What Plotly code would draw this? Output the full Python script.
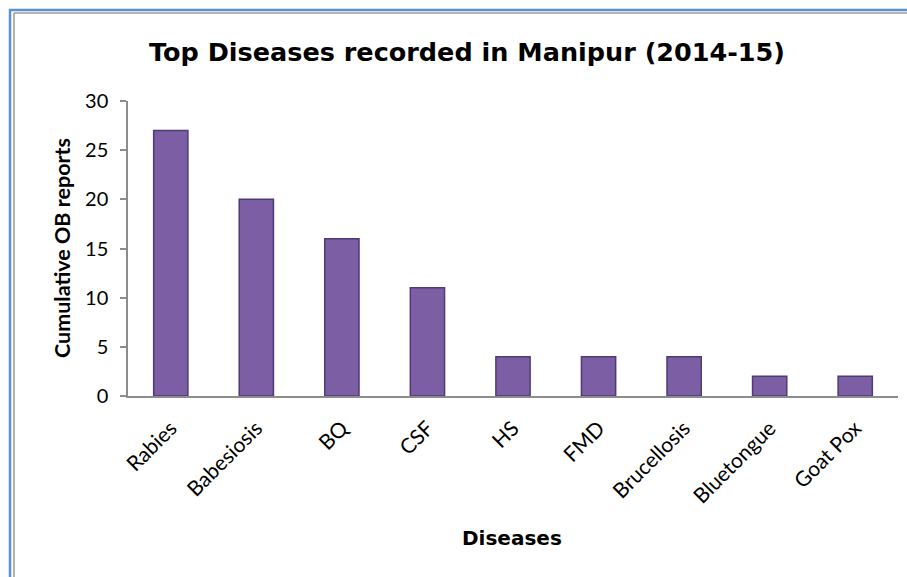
import plotly.graph_objects as go

# Outbreak reports per disease, Manipur 2014-15
diseases = ["Rabies", "Babesiosis", "BQ", "CSF", "HS", "FMD",
            "Brucellosis", "Bluetongue", "Goat Pox"]
ob_reports = [27, 20, 16, 11, 4, 4, 4, 2, 2]
y_ticks = [0, 5, 10, 15, 20, 25, 30]

W, H = 907, 577
L, R, T, B = 128, 9, 101, 181
pw, ph = W - L - R, H - T - B


def px(x):
    return (x - L) / pw


def py(y):
    return (H - B - y) / ph


fig = go.Figure(
    go.Bar(
        x=diseases,
        y=ob_reports,
        marker=dict(color="#7b5ea3", line=dict(color="#4f3a78", width=1.5)),
        hoverinfo="x+y",
    )
)

label_font = dict(family="Lato, Carlito, sans-serif", size=21, color="#000")

fig.update_layout(
    width=W,
    height=H,
    margin=dict(l=L, r=R, t=T, b=B, autoexpand=False),
    paper_bgcolor="white",
    plot_bgcolor="white",
    bargap=0.6,
    showlegend=False,
    title=dict(
        text="<b>Top Diseases recorded in Manipur (2014-15)</b>",
        x=467 / W, xanchor="center",
        y=1 - 52 / H, yanchor="middle",
        font=dict(family="DejaVu Sans", size=25.5, color="#000"),
    ),
    xaxis=dict(
        showline=True, linecolor="#8c8c8c", linewidth=1.5,
        ticks="", tickangle=-45, tickfont=label_font,
        ticklabelstandoff=10,
        showgrid=False, zeroline=False,
    ),
    yaxis=dict(
        range=[0, 30], tickvals=y_ticks,
        showline=True, linecolor="#8c8c8c", linewidth=1.5,
        ticks="outside", ticklen=6, tickcolor="#8c8c8c", tickwidth=1.5,
        ticklabelstandoff=8,
        tickfont=dict(family="Lato, Carlito, sans-serif", size=20, color="#000"),
        showgrid=False, zeroline=False,
    ),
    annotations=[
        dict(text="<b>Diseases</b>", xref="paper", yref="paper",
             x=px(512), y=py(538), showarrow=False,
             xanchor="center", yanchor="middle",
             font=dict(family="DejaVu Sans", size=20, color="#000")),
        dict(text="<b>Cumulative OB reports</b>", xref="paper", yref="paper",
             x=px(62), y=py(248), showarrow=False, textangle=-90,
             xanchor="center", yanchor="middle",
             font=dict(family="Lato, sans-serif", size=21.5, color="#000")),
    ],
    shapes=[
        # outer blue frame (top and left edges)
        dict(type="line", xref="paper", yref="paper",
             x0=px(9), x1=px(W + 5), y0=py(10), y1=py(10),
             line=dict(color="#5b8fd6", width=2.5)),
        dict(type="line", xref="paper", yref="paper",
             x0=px(10), x1=px(10), y0=py(9), y1=py(H + 5),
             line=dict(color="#5b8fd6", width=2.5)),
        # inner grey frame
        dict(type="line", xref="paper", yref="paper",
             x0=px(14), x1=px(W + 5), y0=py(13), y1=py(13),
             line=dict(color="#9a9a9a", width=1.5)),
        dict(type="line", xref="paper", yref="paper",
             x0=px(14), x1=px(14), y0=py(13), y1=py(H + 5),
             line=dict(color="#9a9a9a", width=1.5)),
    ],
)

fig.write_html("out.html")
